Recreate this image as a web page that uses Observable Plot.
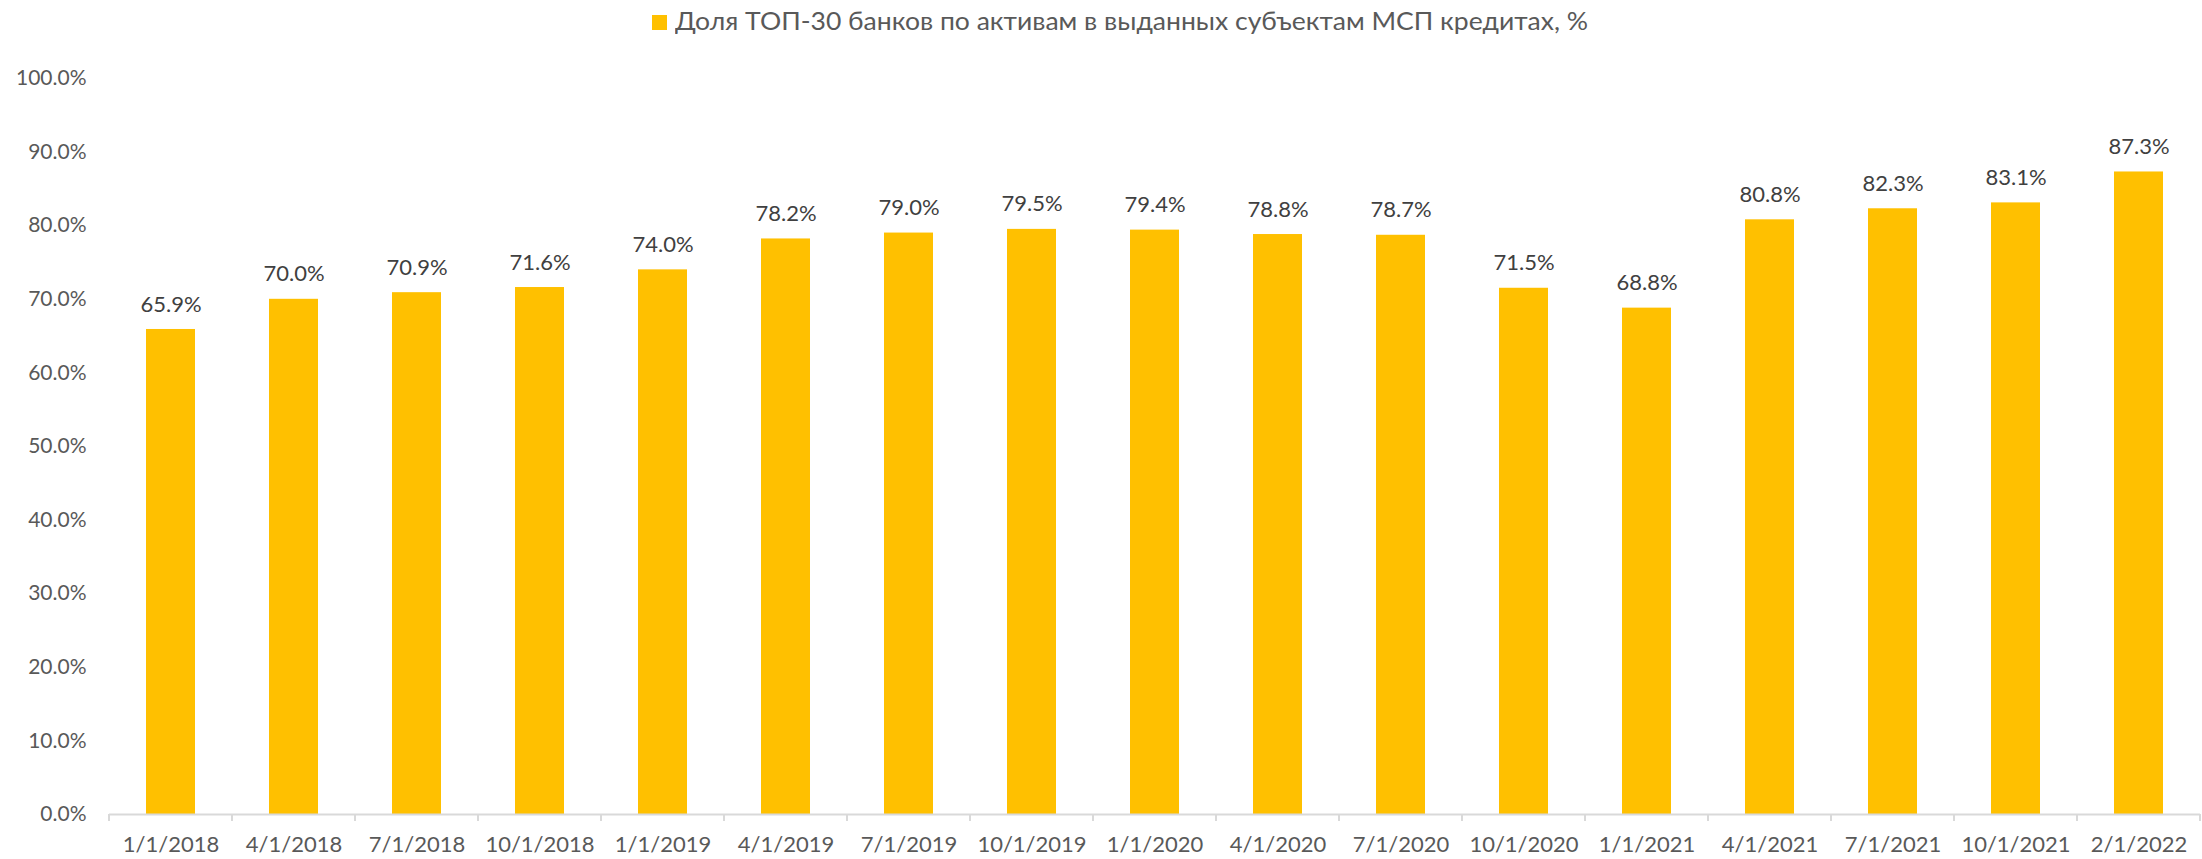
<!DOCTYPE html>
<html>
<head>
<meta charset="utf-8">
<script src="https://cdn.jsdelivr.net/npm/d3@7"></script>
<script src="https://cdn.jsdelivr.net/npm/@observablehq/plot@0.6"></script>
<style>
  html, body { margin: 0; padding: 0; background: #fff; }
  #wrap { width: 2202px; height: 859px; position: relative; overflow: hidden; font-family: Lato, "Open Sans", sans-serif; }
  #legend { position: relative; height: 50px; }
  #legend .sw { position: absolute; left: 652px; top: 15px; width: 15px; height: 15px; background: #FFC000; }
  #legend .lt { position: absolute; left: 675px; top: 5px; font-size: 25px; line-height: 30px; color: #595959; white-space: nowrap; transform-origin: 0 50%; }
</style>
</head>
<body>
<div id="wrap">
  <div id="legend"><span class="sw"></span><span class="lt" id="lt"></span></div>
  <div id="chart"></div>
</div>
<script>
const seriesName = "Доля ТОП-30 банков по активам в выданных субъектам МСП кредитах, %";
const categories = ["1/1/2018","4/1/2018","7/1/2018","10/1/2018","1/1/2019","4/1/2019","7/1/2019","10/1/2019","1/1/2020","4/1/2020","7/1/2020","10/1/2020","1/1/2021","4/1/2021","7/1/2021","10/1/2021","2/1/2022"];
const values = [65.9, 70.0, 70.9, 71.6, 74.0, 78.2, 79.0, 79.5, 79.4, 78.8, 78.7, 71.5, 68.8, 80.8, 82.3, 83.1, 87.3];
const yTicks = [0, 10, 20, 30, 40, 50, 60, 70, 80, 90, 100];

const data = categories.map((c, i) => ({date: c, value: values[i]}));
const fmt = v => v.toFixed(1) + "%";

const lt = document.getElementById("lt");
lt.textContent = seriesName;
const targetW = 913;
const w = lt.getBoundingClientRect().width;
if (w > 0) lt.style.transform = `scaleX(${targetW / w})`;

const plot = Plot.plot({
  width: 2202,
  height: 809,
  marginLeft: 109,
  marginRight: 2,
  marginTop: 28,
  marginBottom: 45,
  style: {fontFamily: "Lato, 'Open Sans', sans-serif", fontSize: "21px", color: "#595959", background: "#fff"},
  x: {domain: categories, paddingInner: 0.6, paddingOuter: 0.3, label: null},
  y: {domain: [0, 100], label: null},
  marks: [
    Plot.axisX({tickSize: 0, tickPadding: 22, fontSize: 22, fill: "#595959", label: null}),
    Plot.axisY({ticks: yTicks, tickFormat: fmt, tickSize: 0, tickPadding: 23, fontSize: 21, fill: "#595959", label: null}),
    Plot.barY(data, {x: "date", y: "value", fill: "#FFC000"}),
    Plot.ruleY([0], {stroke: "#d9d9d9", strokeWidth: 2}),
    Plot.text(data, {x: "date", y: "value", text: d => fmt(d.value), dy: -25, fontSize: 22, fill: "#404040"})
  ]
});
document.getElementById("chart").appendChild(plot);

const svg = d3.select(plot);

// category separator ticks on the x axis, positioned with Plot's own scales
const xs = plot.scale("x");
const ys = plot.scale("y");
const step = xs.step;
const y0 = ys.apply(0);
const edges = categories.map(c => xs.apply(c) + xs.bandwidth / 2 - step / 2);
edges.push(xs.apply(categories[categories.length - 1]) + xs.bandwidth / 2 + step / 2);
svg.append("g").selectAll("line").data(edges).join("line")
  .attr("x1", d => d).attr("x2", d => d)
  .attr("y1", y0).attr("y2", y0 + 7)
  .attr("stroke", "#d9d9d9").attr("stroke-width", 2);
</script>
</body>
</html>
